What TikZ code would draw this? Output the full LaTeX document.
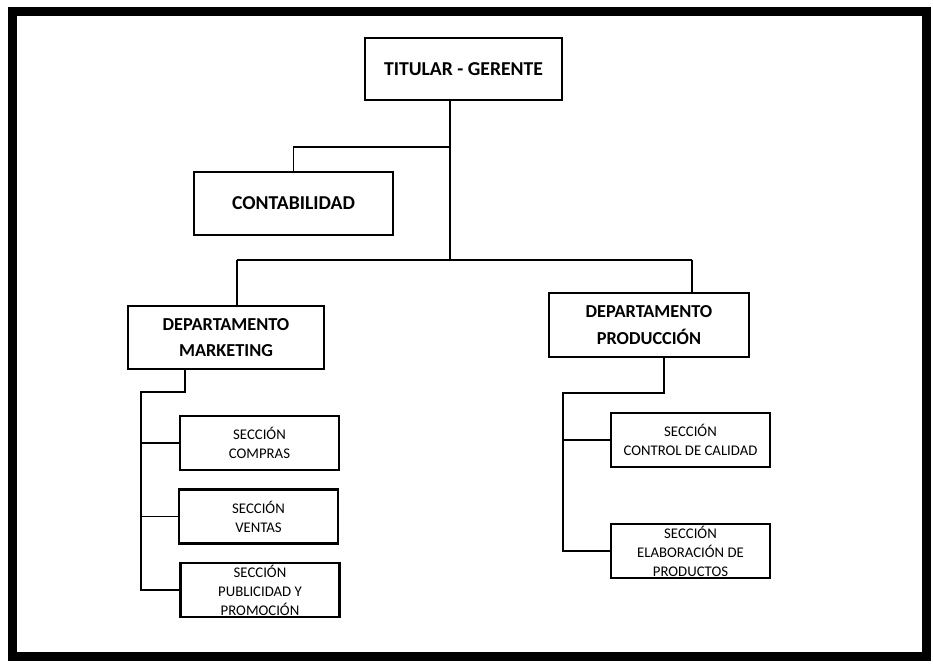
\documentclass[tikz,border=0pt]{standalone}
\usepackage{fontspec}
\setmainfont{Carlito}
\usepackage{tikz}
\usetikzlibrary{positioning,calc}

\begin{document}
\begin{tikzpicture}[thick,
  mainbox/.style={rectangle,draw,line width=1.6pt,align=center,inner sep=0pt,
    font=\fontsize{14}{19}\selectfont\bfseries},
  deptbox/.style={mainbox,font=\fontsize{13}{19}\selectfont\bfseries},
  secbox/.style={rectangle,draw,line width=1.6pt,align=center,inner sep=0pt,
    minimum width=3.975cm,minimum height=1.35cm,
    font=\fontsize{10.5}{13.5}\selectfont},
  link/.style={line width=1.4pt}]
  \useasboundingbox (0,0) rectangle (23.325,-16.675);
  \draw[line width=0.225cm] (0.3125,-0.275) rectangle (23.15,-16.4);
  % top
  \node[mainbox,minimum width=4.925cm,minimum height=1.55cm] (tit) at (11.5875,-1.725) {TITULAR - GERENTE};
  \node[mainbox,minimum width=4.975cm,minimum height=1.575cm] (con) at (7.3375,-5.0875) {CONTABILIDAD};
  % departments
  \node[deptbox,minimum width=4.9cm,minimum height=1.575cm] (mkt) at (5.65,-8.4375) {DEPARTAMENTO\\MARKETING};
  \node[deptbox,minimum width=5cm,minimum height=1.6cm] (prod) at (16.225,-8.125) {DEPARTAMENTO\\PRODUCCIÓN};
  % sections
  \node[secbox] (com) at (6.4875,-11.075) {SECCIÓN\\COMPRAS};
  \node[secbox] (ven) at (6.4625,-12.9125) {SECCIÓN\\VENTAS};
  \node[secbox] (pub) at (6.5,-14.75) {SECCIÓN\\PUBLICIDAD Y\\PROMOCIÓN};
  \node[secbox] (ctl) at (17.2625,-11.0) {SECCIÓN\\CONTROL DE CALIDAD};
  \node[secbox] (ela) at (17.2625,-13.775) {SECCIÓN\\ELABORACIÓN DE\\PRODUCTOS};
  % joints
  \coordinate (cjoin) at (11.25,-3.675);
  \coordinate (barL) at (5.925,-6.5);
  \coordinate (barR) at (17.3,-6.5);
  \coordinate (mdrop) at (4.625,-9.8);
  \coordinate (mspine) at (3.525,-9.8);
  \coordinate (pdrop) at (16.6,-9.825);
  \coordinate (pspine) at (14.075,-9.825);
  \draw[link] (tit.south -| cjoin) -- (cjoin |- barL);
  \draw[link] (con.north) |- (cjoin);
  \draw[link] (barL) -- (barR);
  \draw[link] (barL) -- (barL |- mkt.north);
  \draw[link] (barR) -- (barR |- prod.north);
  \draw[link] (mdrop |- mkt.south) -- (mdrop) -- (mspine) |- (pub.west);
  \draw[link] (mspine |- com.west) -- (com.west);
  \draw[link] (mspine |- ven.west) -- (ven.west);
  \draw[link] (pdrop |- prod.south) -- (pdrop) -- (pspine) |- (ela.west);
  \draw[link] (pspine |- ctl.west) -- (ctl.west);
\end{tikzpicture}
\end{document}
